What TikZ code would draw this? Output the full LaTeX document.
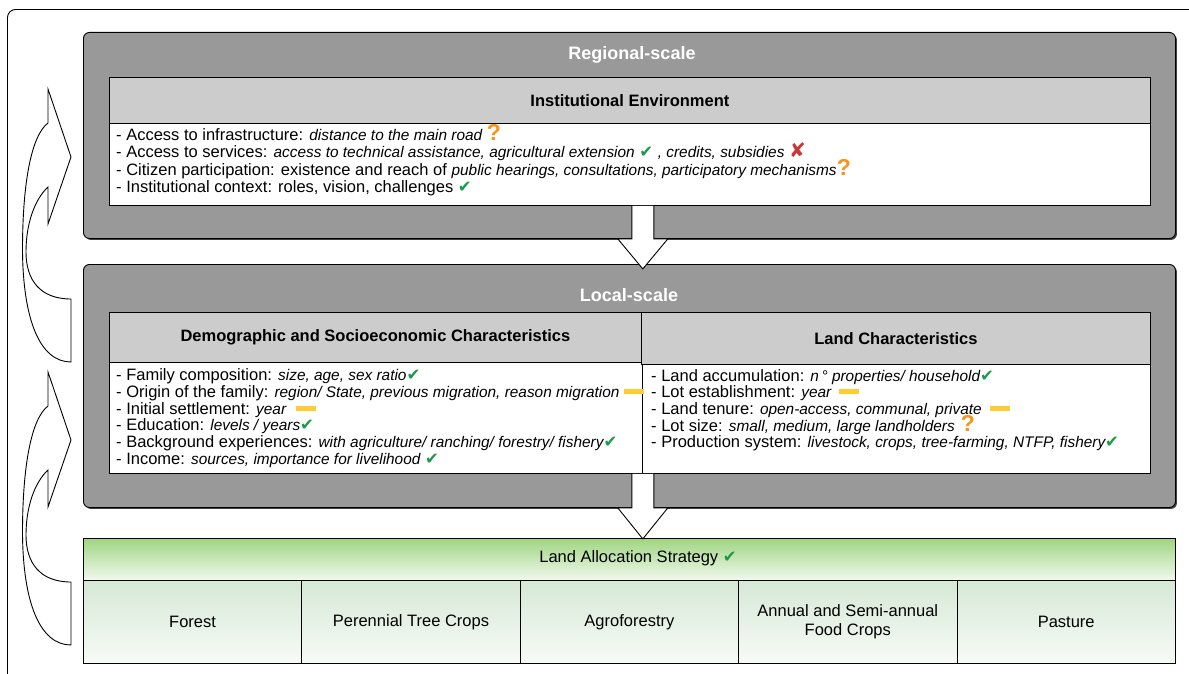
\documentclass[tikz,border=0pt]{standalone}
\usepackage{fontspec}
\setmainfont{Liberation Sans}
\newfontfamily\symfont{DejaVu Sans}
\usetikzlibrary{calc,shadows}
\definecolor{boxgray}{HTML}{999999}
\definecolor{headgray}{HTML}{CCCCCC}
\definecolor{okgreen}{HTML}{1A9A4A}
\definecolor{qorange}{HTML}{F7941D}
\definecolor{xred}{HTML}{C8373A}
\definecolor{dyellow}{HTML}{FFCC33}
\definecolor{greentop}{HTML}{9FD581}
\definecolor{greenbot}{HTML}{F2F9EE}
\definecolor{celltop}{HTML}{D6E8D6}
\definecolor{cellbot}{HTML}{F7FBF6}
\newcommand\mycheck{{\symfont\fontsize{16.5}{16}\selectfont\textcolor{okgreen}{✔}}}
\newcommand\myq{{\fontsize{23}{23}\selectfont\bfseries\textcolor{qorange}{?}}}
\newcommand\myx{{\symfont\fontsize{20}{20}\selectfont\textcolor{xred}{✘}}}
\newcommand\mydash{\textcolor{dyellow}{\rule[3.5pt]{20pt}{5pt}}}
\newcommand\itx[1]{{\fontsize{15.4}{17}\selectfont\itshape #1}}
\tikzset{
  scalebox/.style={draw=black, line width=0.9pt, fill=boxgray, rounded corners=6pt,
    drop shadow={shadow xshift=1.5pt, shadow yshift=-1.5pt, fill=black!75, opacity=1},
    inner sep=0, anchor=north west},
  headbox/.style={draw=black, line width=0.8pt, fill=headgray, inner sep=0, anchor=north west,
    font=\fontsize{16.5}{17}\selectfont\bfseries},
  bodybox/.style={draw=black, line width=0.8pt, fill=white, inner sep=0, anchor=north west},
  txtline/.style={anchor=base west, inner sep=0, font=\fontsize{16.5}{18}\selectfont},
  scaletitle/.style={font=\fontsize{18}{18}\selectfont\bfseries, text=white, inner sep=0},
  blockarrow/.style={fill=white, draw=black, line width=0.9pt, line join=miter},
  curvearrow/.style={fill=white, draw=black, line width=0.9pt, line join=miter},
  cell/.style={draw=black, line width=0.8pt, top color=celltop, bottom color=cellbot,
    minimum width=218.4pt, minimum height=83pt, inner sep=0, anchor=north west, align=center,
    font=\fontsize{16.5}{19}\selectfont}
}
\begin{document}
\begin{tikzpicture}[x=1pt,y=-1pt]
\useasboundingbox (0,0) rectangle (1189,674);
\clip (0,0) rectangle (1189,674);
% outer frame
\draw[line width=0.9pt, rounded corners=8pt] (1200,9.5) -- (7.5,9.5) -- (7.5,700);

% regional scale
\node[scalebox, minimum width=1092pt, minimum height=206pt] (regional) at (83,32) {};
\node[scaletitle] (regTitle) at (632,55) {Regional-scale};
\node[headbox, minimum width=1041pt, minimum height=46pt] (instHead) at (109,77) {Institutional Environment};
\node[bodybox, minimum width=1041pt, minimum height=82pt] (instBody) at (109,123) {};

% local scale
\node[scalebox, minimum width=1092pt, minimum height=243pt] (local) at (83,264) {};
\node[scaletitle] (locTitle) at (629,295) {Local-scale};
\node[headbox, minimum width=532pt, minimum height=50pt] (demHead) at (109,312) {Demographic and Socioeconomic Characteristics};
\node[bodybox, minimum width=533pt, minimum height=111pt] (demBody) at (109,362) {};
\node[headbox, minimum width=509pt, minimum height=52pt] (landHead) at (641,312) {Land Characteristics};
\node[bodybox, minimum width=508pt, minimum height=109pt] (landBody) at (642,364) {};

% land allocation
\node[draw=black, line width=0.9pt, top color=greentop, bottom color=greenbot,
  minimum width=1092pt, minimum height=42pt, inner sep=0, anchor=north west] (alloc) at (83,538) {};
\node[txtline, anchor=center] (allocText) at (638,558) {Land Allocation Strategy \mycheck};
\node[cell] (forest) at (83,580) {Forest};
\node[cell] (perennial) at (301.4,580) {Perennial Tree Crops};
\node[cell] (agro) at (519.8,580) {Agroforestry};
\node[cell] (annual) at (738.2,580) {Annual and Semi-annual\\Food Crops};
\node[cell] (pasture) at (956.6,580) {Pasture};

% block arrows
\draw[blockarrow] let \p1=(demBody.east), \p2=(instBody.south), \p3=(regional.south) in
  (\x1-11pt,\y2) -- (\x1-11pt,\y3) -- (\x1-25pt,\y3) -- (\x1,\y3-30pt) -- (\x1+25pt,\y3)
  -- (\x1+11pt,\y3) -- (\x1+11pt,\y2);
\draw[blockarrow] let \p1=(demBody.east), \p2=(demBody.south), \p3=(local.south) in
  (\x1-11pt,\y2) -- (\x1-11pt,\y3) -- (\x1-25pt,\y3) -- (\x1,\y3-31pt) -- (\x1+25pt,\y3)
  -- (\x1+11pt,\y3) -- (\x1+11pt,\y2);

% curved feedback arrows
\foreach \dy in {0,283}{
\draw[curvearrow, shift={(0,\dy)}] (71,362) .. controls (40,362) and (23,320) .. (22.5,250)
  .. controls (22.5,180) and (32,135) .. (48,123) -- (48,89) -- (71,157) -- (48,224) -- (48,187)
  .. controls (34,200) and (26,225) .. (26,252) .. controls (26,280) and (40,299) .. (71,299) -- cycle;
}

% regional body text
\node[txtline] (r1) at (116,140.5) {- Access to infrastructure: \itx{distance to the main road} \myq};
\node[txtline] (r2) at (116,157.8) {- Access to services: \itx{access to technical assistance, agricultural extension} \mycheck\ \itx{, credits, subsidies} \myx};
\node[txtline] (r3) at (116,175.1) {- Citizen participation: existence and reach of \itx{public hearings, consultations, participatory mechanisms}\myq};
\node[txtline] (r4) at (116,192.4) {- Institutional context: roles, vision, challenges \mycheck};

% local left text
\node[txtline] (l1) at (116,380.5) {- Family composition: \itx{size, age, sex ratio}\mycheck};
\node[txtline] (l2) at (116,397.3) {- Origin of the family: \itx{region/ State, previous migration, reason migration} \mydash};
\node[txtline] (l3) at (116,414.1) {- Initial settlement: \itx{year}\hspace{10pt}\mydash};
\node[txtline] (l4) at (116,430.9) {- Education: \itx{levels / years}\mycheck};
\node[txtline] (l5) at (116,447.7) {- Background experiences: \itx{with agriculture/ ranching/ forestry/ fishery}\mycheck};
\node[txtline] (l6) at (116,464.5) {- Income: \itx{sources, importance for livelihood} \mycheck};

% local right text
\node[txtline] (g1) at (651,381) {- Land accumulation: \itx{n\,° properties/ household}\mycheck};
\node[txtline] (g2) at (651,397.7) {- Lot establishment: \itx{year}\hspace{8pt}\mydash};
\node[txtline] (g3) at (651,414.4) {- Land tenure: \itx{open-access, communal, private}\hspace{8pt}\mydash};
\node[txtline] (g4) at (651,431.1) {- Lot size: \itx{small, medium, large landholders}\hspace{6pt}\myq};
\node[txtline] (g5) at (651,447.8) {- Production system: \itx{livestock, crops, tree-farming, NTFP, fishery}\mycheck};
\end{tikzpicture}
\end{document}
